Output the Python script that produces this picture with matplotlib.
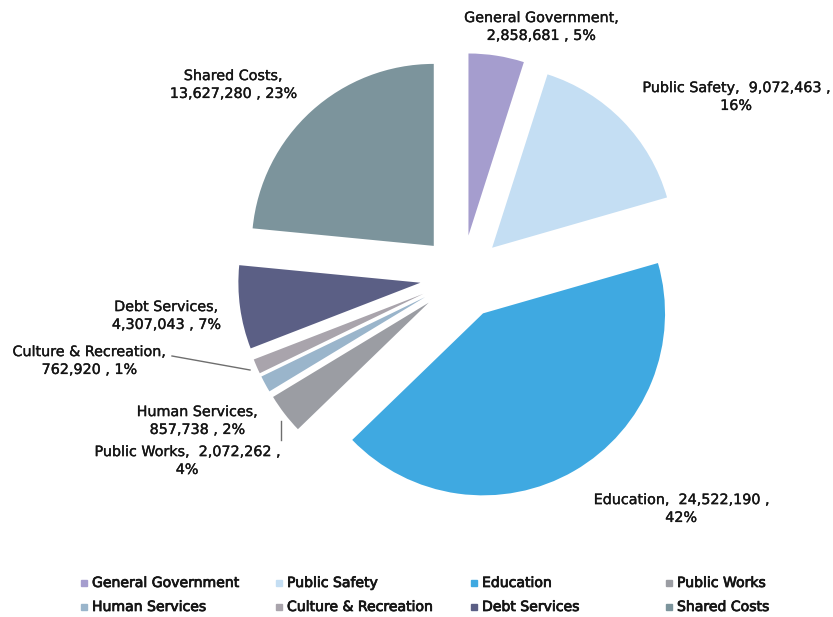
import matplotlib.pyplot as plt
import matplotlib.patheffects as pe

# Budget by function
categories = ['General Government', 'Public Safety', 'Education', 'Public Works',
              'Human Services', 'Culture & Recreation', 'Debt Services', 'Shared Costs']
amounts = [2858681, 9072463, 24522190, 2072262, 857738, 762920, 4307043, 13627280]
percents = ['5%', '16%', '42%', '4%', '2%', '1%', '7%', '23%']
colors = ['#A59DCE', '#C4DEF3', '#3FA9E1', '#9B9DA3', '#9AB5CB', '#A9A4AC', '#5B5F85', '#7C949C']

W, H = 833, 617
fig = plt.figure(figsize=(W / 100, H / 100), dpi=100)
ax = fig.add_axes([0, 0, 1, 1])

cx, cy = 462, H - 277
radius = 182
wedges, _ = ax.pie(amounts, colors=colors, startangle=90, counterclock=False,
                   center=(cx, cy), radius=radius, explode=[42] * len(amounts),
                   wedgeprops=dict(linewidth=0))
ax.set_xlim(0, W)
ax.set_ylim(0, H)
ax.set_aspect('equal')
ax.axis('off')

text_color = '#151515'
lab_font = dict(family='DejaVu Sans', fontsize=10.3, color=text_color, linespacing=1.35)
lab_fx = [pe.withStroke(linewidth=0.25, foreground=text_color)]

# where the line break falls in each label
def label_text(i):
    if i in (1, 2, 3):
        return f"{categories[i]},  {amounts[i]:,} ,\n{percents[i]}"
    return f"{categories[i]},\n{amounts[i]:,} , {percents[i]}"

# label centres (x, y in pixels from top)
label_pos = {
    0: (541, 27),
    1: (736, 97),
    2: (681, 509),
    3: (187, 461),
    4: (197, 421),
    5: (89, 361),
    6: (166, 316),
    7: (233, 85),
}

for i, (x, y) in label_pos.items():
    ax.text(x, H - y, label_text(i), ha='center', va='center', multialignment='center',
            path_effects=lab_fx, **lab_font)

# leader lines for the thin slices
ax.plot([172, 250], [H - 356, H - 370], color='#6e6e6e', linewidth=1)
ax.plot([281, 281], [H - 421, H - 440], color='#6e6e6e', linewidth=1)

# legend, 4 columns x 2 rows
leg_fx = [pe.withStroke(linewidth=0.55, foreground=text_color)]
for k, name in enumerate(categories):
    row, col = divmod(k, 4)
    lx = 84 + 195 * col
    ly = H - (583 + 24 * row)
    ax.plot(lx, ly, marker='s', markersize=4.5, color=colors[k], linestyle='none')
    ax.text(lx + 8, ly, name, ha='left', va='center', family='DejaVu Sans',
            fontsize=10.1, color=text_color, path_effects=leg_fx)

fig.savefig('out.png', dpi=100, facecolor='white')
